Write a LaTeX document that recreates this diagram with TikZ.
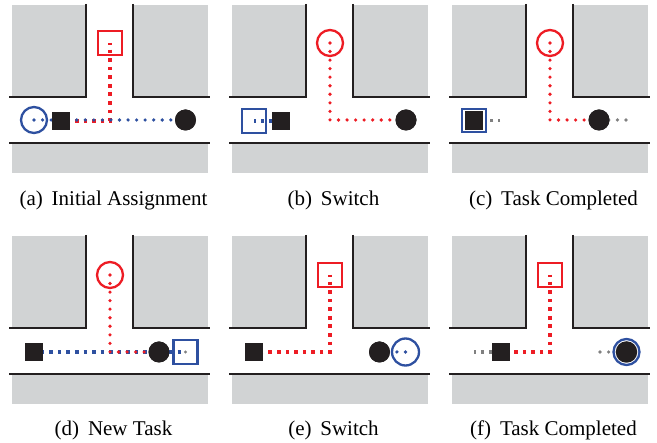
\documentclass[tikz,border=0pt]{standalone}
\usepackage{fontspec}
\setmainfont{Liberation Serif}
\definecolor{rRed}{RGB}{237,28,36}
\definecolor{rBlue}{RGB}{46,80,160}
\definecolor{rGray}{RGB}{128,128,128}
\definecolor{rBlack}{RGB}{35,31,32}
\definecolor{rBlock}{RGB}{209,211,212}
\tikzset{
  streets/.pic={
    \fill[rBlock] (12,5) rectangle (86,97);
    \fill[rBlock] (133,5) rectangle (208,97);
    \fill[rBlock] (12,143) rectangle (208,173);
    \draw[wall] (86,4) -- (86,97) -- (9,97);
    \draw[wall] (133,4) -- (133,97) -- (210,97);
    \draw[wall] (9,143) -- (210,143);
  },
  wall/.style={line width=2.4pt, rBlack, line join=miter},
  roundDots/.style={line width=3.6pt, line cap=round, dash pattern=on 0pt off 8.55pt},
  squareDots/.style={line width=3.6pt, line cap=butt, dash pattern=on 3.6pt off 4.95pt, dash phase=1.8pt},
  taskSq/.style={draw=rRed, line width=2.3pt, minimum size=24pt, inner sep=0pt, fill=white},
  taskCirc/.style={circle, draw=rRed, line width=2.3pt, minimum size=26pt, inner sep=0pt},
  robotCirc/.style={circle, draw=rBlue, line width=2.3pt, minimum size=26pt, inner sep=0pt},
  robotSq/.style={draw=rBlue, line width=2.3pt, minimum size=24pt, inner sep=0pt},
  blackSq/.style={fill=rBlack, minimum size=18pt, inner sep=0pt},
  blackCirc/.style={circle, fill=rBlack, minimum size=21pt, inner sep=0pt},
  captionText/.style={font=\fontsize{21}{24}\selectfont, anchor=base, inner sep=0pt},
}
\newcommand{\lbl}[2]{(#1)\hspace{0.42em}#2}
\begin{document}
\begin{tikzpicture}[x=1pt,y=-1pt]
\useasboundingbox (0,0) rectangle (657,443);
% ---------- (a)
\begin{scope}
  \pic {streets};
  \node[taskSq] (aT) at (110,43) {};
  \node[robotCirc] (aR) at (34,120) {};
  \node[blackCirc] (aC) at (185.5,120) {};
  \node[blackSq] (aS) at (61,121) {};
  \draw[rRed, squareDots] (aT.center) |- (aS.center);
  \draw[rBlue, roundDots] (aR.center) -- (aC.center);
  \node[blackSq] at (aS) {};
  \node[blackCirc] at (aC) {};
  \node[captionText] (aL) at (113.5,205.5) {\lbl{a}{Initial Assignment}};
\end{scope}
% ---------- (b)
\begin{scope}[shift={(220,0)}]
  \pic {streets};
  \node[taskCirc] (bT) at (110,43) {};
  \node[blackCirc] (bC) at (186,120) {};
  \draw[rRed, roundDots] (bT.center) |- (bC.center);
  \node[blackCirc] at (bC) {};
  \node[robotSq] (bR) at (34,121) {};
  \node[blackSq] (bS) at (61,121) {};
  \draw[rBlue, squareDots] (bR.center) -- (bS.center);
  \node[blackSq] at (bS) {};
  \node[captionText] (bL) at (113.5,205.5) {\lbl{b}{Switch}};
\end{scope}
% ---------- (c)
\begin{scope}[shift={(440,0)}]
  \pic {streets};
  \node[taskCirc] (cT) at (110,43) {};
  \node[blackCirc] (cC) at (159,120) {};
  \coordinate (cOldC) at (186,120);
  \draw[rRed, roundDots] (cT.center) |- (cC.center);
  \draw[rGray, roundDots] (cOldC) -- (cC.center);
  \node[blackCirc] at (cC) {};
  \coordinate (cOldS) at (60,120.5);
  \node[robotSq, minimum size=23.5pt, fill=white] (cR) at (34,120.5) {};
  \draw[rGray, squareDots] (cOldS) -- (cR.east);
  \node[blackSq, minimum size=18.5pt] (cS) at (34,120.5) {};
  \node[captionText] (cL) at (113.5,205.5) {\lbl{c}{Task Completed}};
\end{scope}
% ---------- (d)
\begin{scope}[shift={(0,231)}]
  \pic {streets};
  \node[taskCirc] (dT) at (110,44) {};
  \node[blackSq] (dS) at (34,121) {};
  \node[blackCirc] (dC) at (159,121) {};
  \node[robotSq] (dR) at (185.5,121) {};
  \draw[rBlue, squareDots] (dS.center) -- (dR.center);
  \draw[rRed, roundDots] (dT.center) |- (dC.center);
  \node[blackCirc] at (dC) {};
  \node[blackSq] at (dS) {};
  \fill[rGray] (dR.center) circle (1.7);
  \node[captionText] (dL) at (113.5,205) {\lbl{d}{New Task}};
\end{scope}
% ---------- (e)
\begin{scope}[shift={(220,231)}]
  \pic {streets};
  \node[taskSq] (eT) at (110,44) {};
  \node[blackSq] (eS) at (34,121) {};
  \draw[rRed, squareDots] (eT.center) |- (eS.center);
  \node[blackSq] at (eS) {};
  \node[blackCirc] (eC) at (159.5,121) {};
  \node[robotCirc, minimum size=27pt] (eR) at (185.5,121) {};
  \draw[rBlue, roundDots] (eR.center) -- (eC.center);
  \node[blackCirc] at (eC) {};
  \node[captionText] (eL) at (113.5,205) {\lbl{e}{Switch}};
\end{scope}
% ---------- (f)
\begin{scope}[shift={(440,231)}]
  \pic {streets};
  \node[taskSq] (fT) at (110,44) {};
  \node[blackSq] (fS) at (61,121) {};
  \coordinate (fOldS) at (34,121);
  \draw[rRed, squareDots] (fT.center) |- (fS.center);
  \draw[rGray, squareDots] (fOldS) -- (fS.center);
  \node[blackSq] at (fS) {};
  \coordinate (fOldC) at (160,121);
  \node[robotCirc] (fR) at (186.5,121) {};
  \draw[rGray, roundDots] (fOldC) -- (fR.center);
  \node[blackCirc, minimum size=21.5pt] (fC) at (186.5,121) {};
  \node[captionText] (fL) at (113.5,205) {\lbl{f}{Task Completed}};
\end{scope}
\end{tikzpicture}
\end{document}
